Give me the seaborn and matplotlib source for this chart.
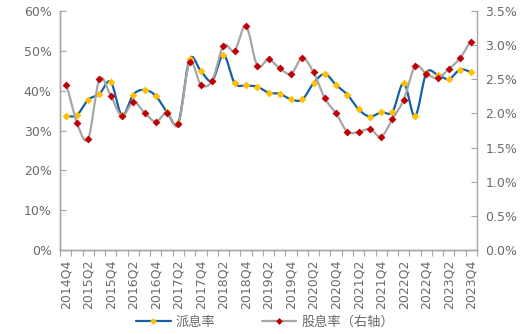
import numpy as np
import pandas as pd
import matplotlib
matplotlib.use("Agg")
import matplotlib.pyplot as plt
import seaborn as sns
from matplotlib.lines import Line2D
from matplotlib.ticker import FuncFormatter, MultipleLocator, FixedLocator

# Quarterly categories 2014Q4 .. 2023Q4
quarters = ["2014Q4"] + [f"{y}Q{q}" for y in range(2015, 2024) for q in (1, 2, 3, 4)]

# 派息率 (%), left axis
payout = [33.6, 33.9, 37.7, 39.2, 42.2, 33.8, 39.0, 40.2, 38.7, 34.6,
          32.0, 47.9, 44.9, 42.5, 49.0, 41.9, 41.3, 41.0, 39.5, 39.2,
          37.8, 37.8, 41.9, 44.2, 41.4, 39.0, 35.3, 33.5, 34.6, 34.7,
          41.9, 33.6, 44.4, 44.0, 42.9, 45.3, 44.7]

# 股息率 (%), right axis
div_yield = [2.42, 1.86, 1.63, 2.50, 2.26, 1.96, 2.17, 2.01, 1.88, 2.01,
             1.84, 2.75, 2.42, 2.48, 2.99, 2.92, 3.28, 2.70, 2.79, 2.66,
             2.58, 2.81, 2.60, 2.22, 2.00, 1.73, 1.73, 1.77, 1.66, 1.92,
             2.20, 2.69, 2.58, 2.52, 2.65, 2.81, 3.05]

label_payout = "派息率"
label_yield = "股息率（右轴）"

BLUE = "#1660A8"
GOLD = "#FFC000"
GREY = "#A6A6A6"
RED = "#C00000"
AXIS = "#A6A6A6"
TXT = "#6B6B6B"


def catmull_rom(values, steps=16):
    """Smoothed curve through every point, like a spreadsheet 'smooth line'."""
    v = np.asarray(values, dtype=float)
    p = np.concatenate([[v[0]], v, [v[-1]]])
    xs, ys = [], []
    for i in range(len(v) - 1):
        p0, p1, p2, p3 = p[i], p[i + 1], p[i + 2], p[i + 3]
        t = np.linspace(0, 1, steps, endpoint=False)
        y = 0.5 * ((2 * p1) + (-p0 + p2) * t + (2 * p0 - 5 * p1 + 4 * p2 - p3) * t ** 2
                   + (-p0 + 3 * p1 - 3 * p2 + p3) * t ** 3)
        xs.extend(i + t)
        ys.extend(y)
    xs.append(len(v) - 1)
    ys.append(v[-1])
    return np.array(xs), np.array(ys)


sns.set_theme(style="white")
plt.rcParams["font.family"] = ["DejaVu Sans", "Noto Sans CJK SC"]

fig = plt.figure(figsize=(5.25, 3.34), dpi=100)
ax = fig.add_axes([60 / 525, 1 - 250 / 334, (477 - 60) / 525, (250 - 11) / 334])
ax2 = ax.twinx()

idx = np.arange(len(quarters))
df = pd.DataFrame({"q": idx, "payout": payout, "yield": div_yield})

sx, sy = catmull_rom(payout)
sns.lineplot(x=sx, y=sy, ax=ax, color=BLUE, lw=1.6, sort=False, estimator=None)
sns.scatterplot(data=df, x="q", y="payout", ax=ax, color=GOLD, s=16,
                marker="D", linewidth=0, zorder=3)

sx2, sy2 = catmull_rom(div_yield)
sns.lineplot(x=sx2, y=sy2, ax=ax2, color=GREY, lw=1.6, sort=False, estimator=None)
sns.scatterplot(data=df, x="q", y="yield", ax=ax2, color=RED, s=16,
                marker="D", linewidth=0, zorder=3)

ax.set_xlim(-0.5, len(quarters) - 0.5)
ax.set_ylim(0, 60)
ax2.set_ylim(0, 3.5)

ax.yaxis.set_major_locator(MultipleLocator(10))
ax.yaxis.set_major_formatter(FuncFormatter(lambda v, _: f"{v:.0f}%"))
ax2.yaxis.set_major_locator(MultipleLocator(0.5))
ax2.yaxis.set_major_formatter(FuncFormatter(lambda v, _: f"{v:.1f}%"))

ax.xaxis.set_major_locator(FixedLocator(idx[::2]))
ax.set_xticklabels(quarters[::2], rotation=90)
ax.xaxis.set_minor_locator(FixedLocator(np.arange(-0.5, len(quarters), 1.0)))

ax.tick_params(axis="x", which="major", length=0, pad=7, labelsize=9, labelcolor=TXT)
ax.tick_params(axis="x", which="minor", length=4, width=0.8, color=AXIS, direction="out", bottom=True)
ax.tick_params(axis="y", length=4, width=0.8, color=AXIS, direction="in", labelsize=9,
               labelcolor=TXT, pad=6, left=True)
ax2.tick_params(axis="y", length=4, width=0.8, color=AXIS, direction="in", labelsize=9,
                labelcolor=TXT, pad=6, right=True)

for a in (ax, ax2):
    a.set_xlabel("")
    a.set_ylabel("")
    a.grid(False)
    a.spines["top"].set_visible(False)
    for s in ("left", "right", "bottom"):
        a.spines[s].set_color(AXIS)
        a.spines[s].set_linewidth(1.0)
ax.spines["right"].set_visible(False)

handles = [
    Line2D([], [], color=BLUE, lw=1.6, marker="D", markersize=3.5,
           markerfacecolor=GOLD, markeredgewidth=0),
    Line2D([], [], color=GREY, lw=1.6, marker="D", markersize=3.5,
           markerfacecolor=RED, markeredgewidth=0),
]
leg = fig.legend(handles, [label_payout, label_yield], loc="lower center",
                 bbox_to_anchor=(0.505, -0.02), ncol=2, frameon=False,
                 fontsize=9.5, columnspacing=3.5, handlelength=2.6, handletextpad=0.4)
for t in leg.get_texts():
    t.set_color(TXT)
    t.set_family(["Noto Sans CJK SC", "DejaVu Sans"])

fig.savefig("out.png", dpi=100)
